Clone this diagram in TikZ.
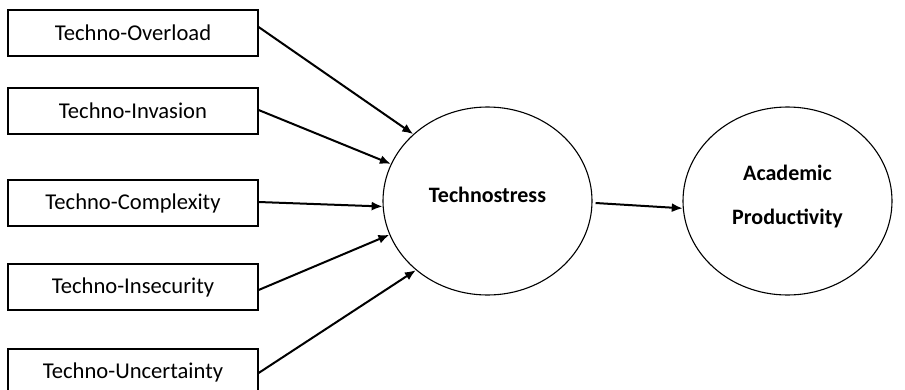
\documentclass[tikz,border=0pt]{standalone}
\usepackage{fontspec}
\setmainfont{Carlito}
\usetikzlibrary{arrows.meta,shapes.geometric}
\begin{document}
\begin{tikzpicture}[x=1pt,y=-1pt,
  factor/.style={draw=black,line width=1.2pt,minimum width=250pt,minimum height=46pt,inner sep=0pt,font=\fontsize{22.6}{26}\selectfont},
  construct/.style={draw=black,line width=1.1pt,ellipse,minimum width=209pt,minimum height=188pt,inner sep=0pt,font=\fontsize{22}{26}\selectfont\bfseries,align=center,text depth=13pt},
  link/.style={line width=2pt,-{Latex[length=11pt,width=9pt]}}]
\clip (0,0) rectangle (905,389);
\fill[white] (0,0) rectangle (905,389);
\node[factor] (b1) at (133,33) {Techno-Overload};
\node[factor] (b2) at (133,111) {Techno-Invasion};
\node[factor] (b3) at (133,203) {Techno-Complexity};
\node[factor] (b4) at (133,287) {Techno-Insecurity};
\node[factor] (b5) at (133,372) {Techno-Uncertainty};
\node[construct] (ts) at (487.5,201) {Technostress};
\node[construct] (ap) at (787.5,201) {Academic\\[18pt]Productivity};
\draw[link] ([yshift=6pt]b1.east) -- (ts.138.5);
\draw[link] ([yshift=1pt]b2.east) -- (ts.159.3);
\draw[link] ([yshift=1pt]b3.east) -- (ts.183);
\draw[link] ([yshift=-3pt]b4.east) -- (ts.199);
\draw[link] ([yshift=-1pt]b5.east) -- (ts.224);
\draw[link] ([xshift=3pt,yshift=-2pt]ts.east) -- (ap.184);
\end{tikzpicture}
\end{document}
